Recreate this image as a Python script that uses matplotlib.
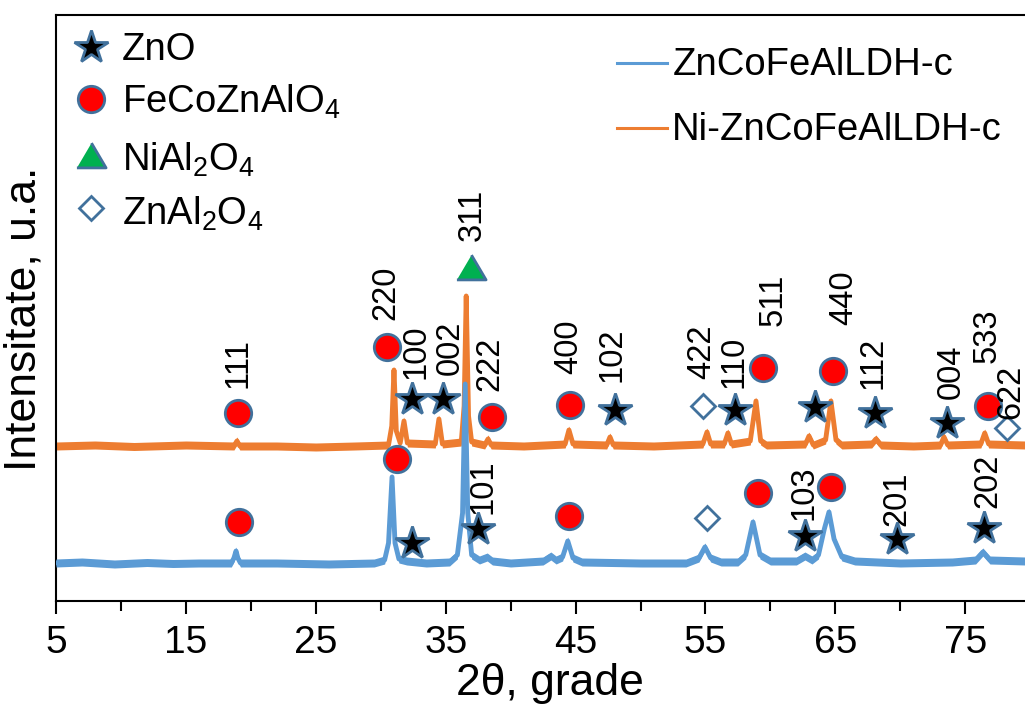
import matplotlib.pyplot as plt
from matplotlib.lines import Line2D

plt.rcParams['font.family'] = 'Liberation Sans'
plt.rcParams['mathtext.fontset'] = 'custom'
plt.rcParams['mathtext.rm'] = 'Liberation Sans'
plt.rcParams['mathtext.it'] = 'Liberation Sans:italic'

BLUE = '#5B9BD5'
ORANGE = '#ED7D31'
EDGE = '#41719C'

# ZnCoFeAlLDH-c, 2theta (deg) and intensity above its baseline (a.u.)
blue_2theta = [5, 7, 9.5, 12, 14, 16, 18.5, 18.7, 18.86, 19.0,
               19.2, 22, 26, 29.5, 30.3, 30.6, 30.87, 31.1, 31.4, 32.0,
               33.5, 35.3, 35.9, 36.3, 36.5, 36.7, 37.0, 37.6, 38.2, 38.6,
               40, 42.5, 43.1, 43.5, 44.0, 44.4, 44.8, 45.5, 50, 53.5,
               54.5, 54.96, 55.4, 56.2, 57.5, 58.1, 58.66, 59.2, 60, 62.0,
               62.66, 63.2, 63.7, 64.15, 64.51, 64.9, 65.5, 66.5, 70, 74,
               75.8, 76.36, 76.9, 79.6]
blue_int = [0, 1, -1, 0.5, -0.5, 0, 0, 5, 12, 5,
            0, 0, -1, 0, 3, 20, 86, 20, 4, 2,
            0, 1, 8, 50, 179, 50, 8, 3, 6, 2,
            0, 2, 7, 3, 6, 22, 5, 1, 0, 0,
            5, 16, 5, 1, 1, 8, 41, 8, 2, 2,
            7, 3, 8, 34, 51, 24, 6, 2, 0, 1,
            3, 11, 3, 2]

# Ni-ZnCoFeAlLDH-c
orange_2theta = [5, 8, 11, 15, 18.7, 18.93, 19.15, 22, 25, 28,
                 30.6, 30.85, 31.02, 31.2, 31.5, 31.79, 32.05, 34.2, 34.48, 34.75,
                 36.2, 36.42, 36.58, 36.76, 37.0, 38.0, 38.26, 38.5, 41, 44.2,
                 44.49, 44.8, 47.4, 47.65, 47.9, 51, 54.8, 55.12, 55.4, 56.45,
                 56.73, 57.0, 58.45, 58.89, 59.25, 59.7, 62.7, 62.97, 63.3, 64.25,
                 64.66, 65.05, 65.5, 67.8, 68.12, 68.5, 71, 73.1, 73.36, 73.65,
                 76.2, 76.5, 76.8, 79.6]
orange_int = [0, 1, -0.5, 1, 0, 5, 0, 0, -1, 0,
              1, 20, 76, 15, 3, 25, 3, 2, 27, 2,
              4, 40, 150, 30, 4, 1, 7, 1, 0, 2,
              16, 2, 1, 9, 1, 0, 2, 14, 2, 2,
              13, 2, 5, 45, 5, 1, 2, 10, 1, 6,
              45, 6, 1, 2, 7, 1, 0, 1, 9, 1,
              2, 13, 2, 1]

blue_offset = 38
orange_offset = 155
noise = 4

# phase markers (2theta, height on the same scale)
zno_2theta = [32.41, 34.79, 48.03, 57.27, 63.43, 68.05, 73.59,
              32.41, 37.49, 62.66, 69.74, 76.44]
zno_y = [202, 202, 191, 191, 194, 188, 178,
         58, 72, 65, 62, 73]
spinel_2theta = [19.01, 30.48, 38.56, 44.57, 59.43, 64.82, 76.75,
                 19.09, 31.25, 44.49, 59.04, 64.66]
spinel_y = [188, 254, 184, 196, 233, 230, 195,
            79, 142, 85, 108, 114]
nial_2theta = [36.95]
nial_y = [334]
znal_2theta = [54.81, 78.21, 55.12]
znal_y = [195, 173, 83]

# Miller indices
hkl_text = ['111', '220', '100', '002', '222', '311', '400', '102', '422', '110',
            '511', '440', '112', '004', '533', '622', '101', '103', '201', '202']
hkl_2theta = [19.01, 30.40, 32.71, 35.33, 38.41, 37.02, 44.49, 47.80, 54.73, 57.19,
              60.20, 65.65, 67.89, 73.90, 76.65, 78.5, 37.87, 62.58, 69.74, 76.75]
hkl_y = [238, 308, 249, 253, 237, 386, 254, 246, 249, 239,
         301, 303, 238, 229, 265, 209, 114, 108, 102, 120]

star = dict(marker='*', ms=25, mfc='black', mec=EDGE, mew=2, ls='none')
circle = dict(marker='o', ms=19, mfc='#FF0000', mec=EDGE, mew=2, ls='none')
tri = dict(marker=[(-1, -0.85), (1, -0.85), (0, 0.85)], ms=21, mfc='#00B050',
           mec=EDGE, mew=2, ls='none')
diamond = dict(marker='D', ms=12, mfc='white', mec=EDGE, mew=2, ls='none')

fig = plt.figure(figsize=(10.25, 7.13), dpi=100)
ax = fig.add_axes([56 / 1025, 1 - 601 / 713, 969 / 1025, 586 / 713])

for xs, ys, off, col, z in [(orange_2theta, orange_int, orange_offset, ORANGE, 2),
                            (blue_2theta, blue_int, blue_offset, BLUE, 3)]:
    y = [v + off for v in ys]
    ax.fill_between(xs, [v - noise for v in y], [v + noise for v in y],
                    color=col, lw=0, zorder=z)
    ax.plot(xs, y, color=col, lw=3.5, solid_joinstyle='round', zorder=z)

ax.plot(zno_2theta, zno_y, zorder=5, **star)
ax.plot(spinel_2theta, spinel_y, zorder=5, **circle)
ax.plot(nial_2theta, nial_y, zorder=5, **tri)
ax.plot(znal_2theta, znal_y, zorder=5, **diamond)

for t, x, y in zip(hkl_text, hkl_2theta, hkl_y):
    ax.text(x, y, t, rotation=90, ha='center', va='center', fontsize=23.5, zorder=6)

ax.set_xlim(5, 79.6)
ax.set_ylim(0, 586)
ax.set_xticks(range(5, 80, 10))
ax.set_xticks(range(10, 80, 10), minor=True)
ax.set_yticks([])
ax.tick_params(axis='x', which='major', direction='out', length=9.5, width=1.5,
               labelsize=28, pad=8)
ax.tick_params(axis='x', which='minor', direction='out', length=7, width=1.5)
for s in ['left', 'bottom', 'top']:
    ax.spines[s].set_linewidth(1.5)
ax.spines['right'].set_visible(False)

ax.set_xlabel('2θ, grade', fontsize=32)
ax.xaxis.set_label_coords(0.51, -0.105)
ax.set_ylabel('Intensitate, u.a.', fontsize=32)
ax.yaxis.set_label_coords(-0.012, 0.481)

# phase key, top left
keys = [(star, 'ZnO', 0.945, 0.923),
        (circle, 'FeCoZnAlO$_4$', 0.857, 0.833),
        (tri, 'NiAl$_2$O$_4$', 0.761, 0.735),
        (diamond, 'ZnAl$_2$O$_4$', 0.671, 0.642)]
for style, label, ym, yt in keys:
    ax.add_line(Line2D([0.036], [ym], transform=ax.transAxes, clip_on=False, **style))
    ax.text(0.068, yt, label, transform=ax.transAxes, fontsize=27.5, va='baseline')

# sample key, top right
for col, label, ym, yt in [(BLUE, 'ZnCoFeAlLDH-c', 0.918, 0.898),
                           (ORANGE, 'Ni-ZnCoFeAlLDH-c', 0.807, 0.787)]:
    ax.add_line(Line2D([0.579, 0.631], [ym, ym], transform=ax.transAxes,
                       color=col, lw=2.2))
    ax.text(0.636, yt, label, transform=ax.transAxes, fontsize=27.5, va='baseline')

fig.savefig('out.png', dpi=100)
